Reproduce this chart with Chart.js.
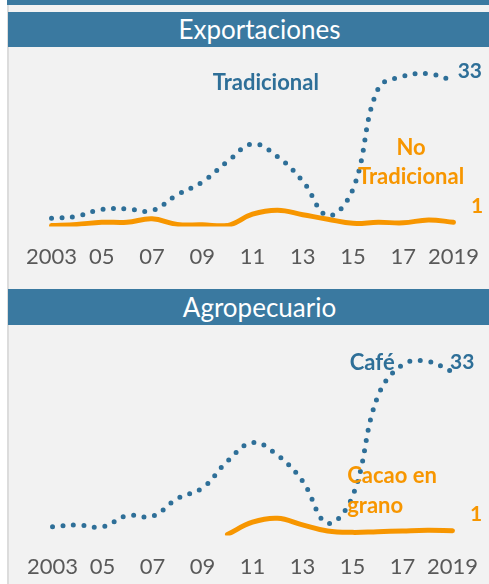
<!DOCTYPE html>
<html>
<head>
<meta charset="utf-8">
<script src="https://cdn.jsdelivr.net/npm/chart.js@4.4.1/dist/chart.umd.min.js"></script>
<style>
  body { margin: 0; width: 489px; height: 584px; background: #ffffff; position: relative; overflow: hidden; font-family: Lato, "Open Sans", sans-serif; }
  .bar { position: absolute; background: #3a79a0; }
  .panel { position: absolute; left: 7px; width: 482px; background: #f2f2f2; border-left: 2px solid #dcdcdc; box-sizing: border-box; }
  .header { position: absolute; left: 8px; width: 481px; background: #3a79a0; color: #ffffff; font-size: 26px; text-align: center; padding-left: 22px; box-sizing: border-box; }
  canvas { position: absolute; }
</style>
</head>
<body>
<div class="bar" style="left:7px;top:0;width:482px;height:5px;"></div>
<div class="panel" style="top:5px;height:284px;"></div>
<div class="panel" style="top:289px;height:295px;"></div>
<div class="header" style="top:12px;height:35px;line-height:35px;">Exportaciones</div>
<div class="header" style="top:289px;height:36px;line-height:36px;">Agropecuario</div>
<div style="position:absolute;left:9px;top:47px;width:487px;height:242px;"><canvas id="chartExport"></canvas></div>
<div style="position:absolute;left:9px;top:325px;width:487px;height:279px;"><canvas id="chartAgro"></canvas></div>
<script>
"use strict"

// years on the x axis, only odd years get a label
let years = ["2003", "2004", "2005", "2006", "2007", "2008", "2009", "2010", "2011",
  "2012", "2013", "2014", "2015", "2016", "2017", "2018", "2019"];
let xTickLabels = ["2003", "", "05", "", "07", "", "09", "", "11", "", "13", "", "15", "", "17", "", "2019"];

// exportaciones panel
let tradicional = [1.9, 2.35, 3.9, 4.0, 3.6, 7.2, 10.1, 14.7, 18.7, 15.8, 10.3, 2.5, 8.5, 31.2, 34.0, 34.6, 33.0];
let noTradicional = [0.23, 0.5, 0.98, 0.98, 1.75, 0.5, 0.4, 0.23, 2.8, 3.7, 2.7, 1.67, 0.75, 0.98, 0.85, 1.5, 1.0];

// agropecuario panel
let cafe = [1.8, 2.16, 1.75, 4.05, 3.9, 7.5, 9.6, 15.0, 18.75, 16.2, 11.0, 2.5, 7.9, 27.9, 34.4, 35.1, 33.0];
let cacao = [null, null, null, null, null, null, null, 0.24, 2.7, 3.5, 2.16, 0.94, 0.65, 0.8, 0.94, 1.06, 1.0];

const BLUE = "#2e6f98";
const ORANGE = "#f79600";

// draws the series names and end values, placed with the chart scales
const textPlugin = {
  id: "textLabels",
  afterDatasetsDraw(chart, args, opts) {
    let ctx = chart.ctx;
    let xs = chart.scales.x;
    let ys = chart.scales.y;
    ctx.save();
    ctx.textBaseline = "middle";
    for (let i = 0; i < opts.items.length; i++) {
      let item = opts.items[i];
      ctx.font = "bold " + (item.size || 22) + "px Lato, 'Open Sans', sans-serif";
      ctx.fillStyle = item.color;
      ctx.textAlign = item.align || "center";
      ctx.fillText(item.text, xs.getPixelForValue(item.x), ys.getPixelForValue(item.y));
    }
    ctx.restore();
  }
};

function dottedSet(data) {
  return {
    data: data,
    borderColor: BLUE,
    borderWidth: 5,
    borderDash: [0, 10.5],
    borderCapStyle: "round",
    tension: 0.4,
    pointRadius: 0,
    fill: false
  };
}

function solidSet(data) {
  return {
    data: data,
    borderColor: ORANGE,
    borderWidth: 5,
    borderCapStyle: "round",
    borderJoinStyle: "round",
    tension: 0.4,
    pointRadius: 0,
    spanGaps: false,
    fill: false
  };
}

function makeChart(id, sets, yMax, pad, labelPad, items) {
  let ctx = document.getElementById(id).getContext("2d");
  return new Chart(ctx, {
    type: "line",
    data: { labels: years, datasets: sets },
    options: {
      responsive: true,
      maintainAspectRatio: false,
      animation: false,
      layout: { padding: pad },
      plugins: {
        legend: { display: false },
        tooltip: { enabled: false },
        textLabels: { items: items }
      },
      scales: {
        x: {
          offset: false,
          grid: { display: false, drawTicks: false },
          border: { display: false },
          ticks: {
            autoSkip: false,
            maxRotation: 0,
            padding: labelPad,
            color: "#595959",
            font: { family: "Lato, 'Open Sans', sans-serif", size: 22 },
            callback: function (value, index) { return xTickLabels[index]; }
          }
        },
        y: { display: false, min: 0, max: yMax }
      }
    },
    plugins: [textPlugin]
  });
}

makeChart("chartExport", [dottedSet(tradicional), solidSet(noTradicional)], 37.7,
  { left: 41, right: 32, top: 13, bottom: 2 }, 17, [
    { text: "Tradicional", x: 8.53, y: 32.5, color: BLUE },
    { text: "No", x: 14.31, y: 17.8, color: ORANGE },
    { text: "Tradicional", x: 14.31, y: 11.2, color: ORANGE },
    { text: "33", x: 16.65, y: 35.1, color: BLUE, size: 21 },
    { text: "1", x: 16.94, y: 4.7, color: ORANGE, size: 21 }
  ]);

makeChart("chartAgro", [dottedSet(cafe), solidSet(cacao)], 38.4,
  { left: 41, right: 32, top: 20, bottom: 6 }, 18, [
    { text: "Café", x: 12.79, y: 34.8, color: BLUE },
    { text: "33", x: 16.39, y: 35.0, color: BLUE, size: 21 },
    { text: "Cacao en", x: 11.79, y: 12.0, color: ORANGE, align: "left" },
    { text: "grano", x: 11.79, y: 5.9, color: ORANGE, align: "left" },
    { text: "1", x: 16.94, y: 4.25, color: ORANGE, size: 21 }
  ]);
</script>
</body>
</html>
